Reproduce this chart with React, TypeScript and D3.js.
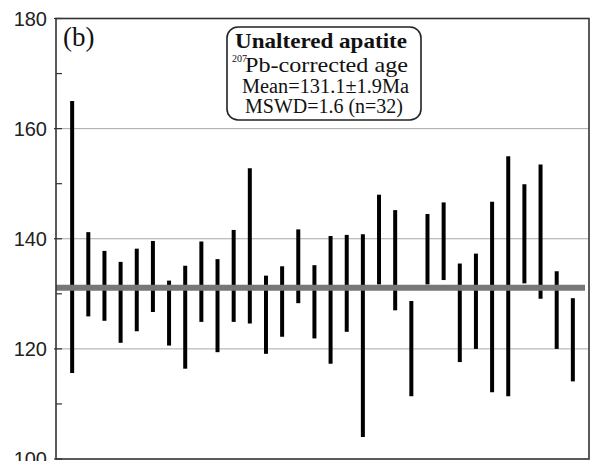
import React from "react";
import * as d3 from "d3";

// 2-sigma age ranges (Ma) of the 32 spots
const upper = [165.0, 141.2, 137.8, 135.8, 138.2, 139.6, 132.4, 135.1, 139.5, 136.3, 141.6, 152.8, 133.3, 135.0, 141.7, 135.2,
  140.5, 140.7, 140.8, 148.0, 145.2, 128.7, 144.5, 146.6, 135.5, 137.3, 146.7, 155.0, 149.9, 153.5, 134.1, 129.2];
const lower = [115.6, 125.9, 125.1, 121.1, 123.2, 126.7, 120.6, 116.4, 124.9, 119.4, 124.9, 124.6, 119.1, 122.2, 128.3, 121.9,
  117.3, 123.1, 104.0, 131.7, 127.0, 111.4, 131.7, 132.5, 117.6, 120.0, 112.1, 111.4, 131.9, 129.1, 120.0, 114.1];
const meanAge = 131.1;
const majorTicks = [100, 120, 140, 160, 180];
const minorTicks = [110, 130, 150, 170];
const gridTicks = [120, 140, 160];

const W = 591;
const H = 461;
const left = 56, right = 589, top = 18.5, bottom = 459;

export default function App() {
  const x = d3.scaleLinear().domain([0, upper.length + 1]).range([left, right]);
  const y = d3.scaleLinear().domain([100, 180]).range([bottom, top]);
  const spots = upper.map((u, i) => ({ i: i + 1, u, l: lower[i] }));

  return (
    <svg width={W} height={H} style={{ position: "absolute", left: 0, top: 0, background: "#fff" }}>
      {/* grid */}
      {gridTicks.map(t => (
        <line key={t} x1={left} x2={right} y1={y(t)} y2={y(t)} stroke="#a8a8a8" strokeWidth={1} />
      ))}

      {/* error bars */}
      {spots.map(d => (
        <line key={d.i} x1={x(d.i)} x2={x(d.i)} y1={y(d.u)} y2={y(d.l)} stroke="#000" strokeWidth={4} />
      ))}

      {/* weighted mean */}
      <line x1={left} x2={585} y1={y(meanAge)} y2={y(meanAge)} stroke="#777" strokeWidth={6} />

      {/* frame */}
      <rect x={left} y={top} width={right - left} height={bottom - top} fill="none" stroke="#333" strokeWidth={1.6} />

      {/* y axis */}
      <g fontFamily="'Liberation Sans', Arial, sans-serif" fontSize={20} fill="#222" textAnchor="end">
        {majorTicks.map(t => (
          <g key={t}>
            <line x1={left - 2} x2={left + 6} y1={y(t)} y2={y(t)} stroke="#333" strokeWidth={1.2} />
            <text x={47} y={y(t) + 7}>{t}</text>
          </g>
        ))}
        {minorTicks.map(t => (
          <line key={t} x1={left} x2={left + 6} y1={y(t)} y2={y(t)} stroke="#333" strokeWidth={1.2} />
        ))}
      </g>

      <text x={63} y={46} fontFamily="'Liberation Serif', 'Times New Roman', serif" fontSize={27} fill="#111">(b)</text>

      {/* legend box */}
      <rect x={227} y={27} width={194} height={93} rx={11} fill="#fff" stroke="#222" strokeWidth={1.6} />
      <g fontFamily="'Liberation Serif', 'Times New Roman', serif" fill="#111">
        <text x={235} y={47.5} fontSize={21} fontWeight="bold" textLength={172} lengthAdjust="spacingAndGlyphs">Unaltered apatite</text>
        <text x={232} y={71.5} fontSize={21}>
          <tspan fontSize={10} dy={-10}>207</tspan>
          <tspan x={245} dy={10} textLength={163} lengthAdjust="spacingAndGlyphs">Pb-corrected age</tspan>
        </text>
        <text x={242} y={92.5} fontSize={20} textLength={167} lengthAdjust="spacingAndGlyphs">Mean=131.1±1.9Ma</text>
        <text x={245} y={112.5} fontSize={20} textLength={158} lengthAdjust="spacingAndGlyphs">MSWD=1.6 (n=32)</text>
      </g>
    </svg>
  );
}
